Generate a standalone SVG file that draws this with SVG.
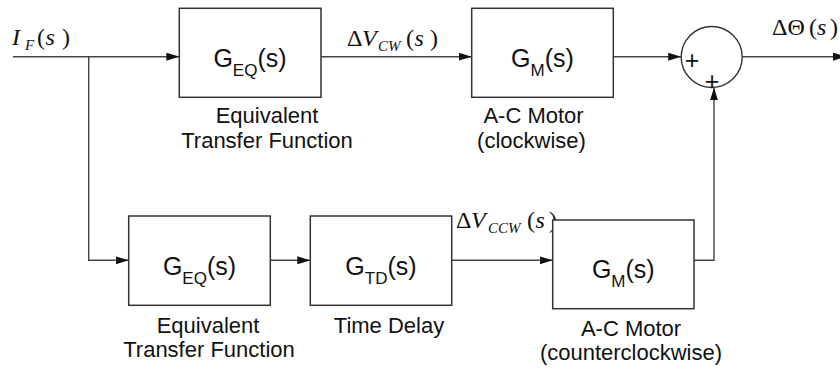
<svg xmlns="http://www.w3.org/2000/svg" width="840" height="369" viewBox="0 0 840 369">
<style>
.box{fill:#fff;stroke:#333;stroke-width:1.5}
.ln{fill:none;stroke:#444;stroke-width:1.4}
.bt{font-family:"Liberation Sans",Arial,sans-serif;font-size:25px;fill:#111;text-anchor:middle}
.lb{font-family:"Liberation Sans",Arial,sans-serif;font-size:22px;fill:#111;text-anchor:middle}
.eq{font-family:"Liberation Serif","Times New Roman",serif;font-size:24px;fill:#111}
.it{font-style:italic}
.sb{font-size:15px;font-style:italic}
.pl{font-family:"Liberation Sans",Arial,sans-serif;font-size:25px;fill:#111;text-anchor:middle}
</style>
<defs>
<marker id="ah" markerWidth="13" markerHeight="8" refX="13" refY="4" orient="auto" markerUnits="userSpaceOnUse">
<path d="M0,0 L13,4 L0,8 Z" fill="#111"/>
</marker>
</defs>
<g id="connectors">
<path class="ln" d="M13,56.7 H179.3" marker-end="url(#ah)"/>
<path class="ln" d="M88.7,56.7 V260.3 H128.7" marker-end="url(#ah)"/>
<path class="ln" d="M321,56.7 H471.7" marker-end="url(#ah)"/>
<path class="ln" d="M613.3,56.7 H681.2" marker-end="url(#ah)"/>
<path class="ln" d="M742.2,56.7 H846" marker-end="url(#ah)"/>
<path class="ln" d="M270.3,260.3 H310.3" marker-end="url(#ah)"/>
<path class="ln" d="M451.7,260.3 H552.7" marker-end="url(#ah)"/>
<path class="ln" d="M694,260.3 H714 V87.4" marker-end="url(#ah)"/>
</g>
<g id="signal-labels">
<text class="eq" y="45"><tspan class="it" x="12">I</tspan><tspan class="sb" x="25" y="50">F</tspan><tspan x="37" y="45">(</tspan><tspan class="it" x="45.5">s</tspan><tspan x="62">)</tspan></text>
<text class="eq" y="46"><tspan x="347">Δ</tspan><tspan class="it" x="362">V</tspan><tspan class="sb" x="378" y="51">CW</tspan><tspan x="406" y="46">(</tspan><tspan class="it" x="414.5">s</tspan><tspan x="430">)</tspan></text>
<text class="eq" y="35"><tspan x="772">ΔΘ</tspan><tspan x="809">(</tspan><tspan class="it" x="817">s</tspan><tspan x="830">)</tspan></text>
<text class="eq" y="228"><tspan x="456">Δ</tspan><tspan class="it" x="471">V</tspan><tspan class="sb" x="488" y="233">CCW</tspan><tspan x="527" y="228">(</tspan><tspan class="it" x="535.5">s</tspan><tspan x="549">)</tspan></text>
</g>
<g id="box-geq-top">
<rect class="box" x="179.3" y="8.3" width="141.7" height="89"/>
<text class="bt" x="250" y="67">G<tspan font-size="17" dy="9">EQ</tspan><tspan dy="-9">(s)</tspan></text>
<text class="lb" x="267" y="123">Equivalent</text>
<text class="lb" x="267" y="147.5">Transfer Function</text>
</g>
<g id="box-gm-top">
<rect class="box" x="471.7" y="8.3" width="141.6" height="89"/>
<text class="bt" x="542.5" y="67">G<tspan font-size="17" dy="9">M</tspan><tspan dy="-9">(s)</tspan></text>
<text class="lb" x="533.5" y="123">A-C Motor</text>
<text class="lb" x="531.5" y="147.5">(clockwise)</text>
</g>
<g id="sum">
<circle cx="711.7" cy="57" r="30.5" fill="#fff" stroke="#333" stroke-width="1.4"/>
<text class="pl" x="692" y="68.5">+</text>
<text class="pl" x="712" y="89.5">+</text>
</g>
<g id="box-geq-bottom">
<rect class="box" x="128.7" y="216" width="141.6" height="89.3"/>
<text class="bt" x="199.5" y="275">G<tspan font-size="17" dy="9">EQ</tspan><tspan dy="-9">(s)</tspan></text>
<text class="lb" x="208" y="333">Equivalent</text>
<text class="lb" x="209" y="357">Transfer Function</text>
</g>
<g id="box-gtd">
<rect class="box" x="310.3" y="216" width="141.4" height="89.3"/>
<text class="bt" x="381" y="275">G<tspan font-size="17" dy="9">TD</tspan><tspan dy="-9">(s)</tspan></text>
<text class="lb" x="389" y="333">Time Delay</text>
</g>
<g id="box-gm-bottom">
<rect class="box" x="552.7" y="220" width="141.3" height="88.7"/>
<text class="bt" x="623.3" y="277.5">G<tspan font-size="17" dy="9">M</tspan><tspan dy="-9">(s)</tspan></text>
<text class="lb" x="631" y="335.5">A-C Motor</text>
<text class="lb" x="631" y="360">(counterclockwise)</text>
</g>
</svg>
